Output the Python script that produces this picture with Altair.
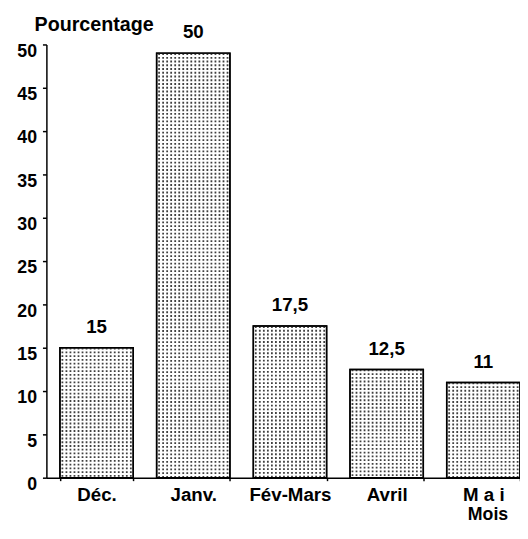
import altair as alt
import pandas as pd

categories = ["Déc.", "Janv.", "Fév-Mars", "Avril", "M a i"]
values = [15, 49, 17.5, 12.5, 11]
value_labels = ["15", "50", "17,5", "12,5", "11"]
y_ticks = [i * 2.5 for i in range(21)]

df = pd.DataFrame({"cat": categories, "value": values, "label": value_labels})

FONT = "Liberation Sans"

xscale = alt.Scale(domain=categories, paddingInner=0.242, paddingOuter=0.07, align=1)
yscale = alt.Scale(domain=[0, 50], nice=False, zero=True)

xenc = alt.X(
    "cat:N", sort=categories, scale=xscale,
    axis=alt.Axis(
        title="Mois", titleFont=FONT, titleFontSize=18, titleFontWeight="bold",
        titleX=448, titleY=37, titleAlign="center", titleBaseline="middle",
        labelFont=FONT, labelFontSize=19, labelFontWeight="bold", labelColor="black",
        labelAngle=0, labelPadding=5, tickBand="extent", tickSize=3,
        tickColor="black", domainColor="black", domainWidth=1.5, tickWidth=1.5,
        titleColor="black",
    ),
)
yenc = alt.Y(
    "value:Q", scale=yscale,
    axis=alt.Axis(
        values=y_ticks,
        labelExpr="datum.value % 5 == 0 ? datum.label : ''",
        title="Pourcentage", titleAngle=0, titleX=48, titleY=-20,
        titleAlign="center", titleBaseline="middle",
        titleFont=FONT, titleFontSize=20, titleFontWeight="bold", titleColor="black",
        labelFont=FONT, labelFontSize=18, labelFontWeight="bold", labelColor="black",
        labelBaseline="middle", labelOffset=7, labelPadding=6,
        tickSize=4, tickColor="black", tickWidth=1.5,
        domainColor="black", domainWidth=1.5, grid=False,
    ),
)

bars = alt.Chart(df).mark_bar(
    fill="white", stroke="black", strokeWidth=1.5
).encode(x=xenc, y=yenc)

dots = alt.Chart(df).transform_calculate(
    k="sequence(0, 18)"
).transform_flatten(["k"]).mark_rule(
    color="#404040", strokeWidth=1.8, strokeDash=[1.9, 1.9]
).encode(
    x=alt.X("cat:N", sort=categories, scale=xscale),
    xOffset=alt.XOffset("k:Q", scale=alt.Scale(domain=[0, 17], range=[2.5, 72])),
    y=alt.Y("value:Q", scale=yscale),
    y2=alt.datum(0),
)

outline = alt.Chart(df).mark_bar(
    fillOpacity=0, stroke="black", strokeWidth=1.5
).encode(x=alt.X("cat:N", sort=categories, scale=xscale), y=alt.Y("value:Q", scale=yscale))

text = alt.Chart(df).mark_text(
    font=FONT, fontSize=19, fontWeight="bold", color="black",
    baseline="middle", dy=-21
).encode(
    x=alt.X("cat:N", sort=categories, scale=xscale),
    y=alt.Y("value:Q", scale=yscale),
    text="label:N",
)

chart = alt.layer(bars, dots, outline, text).resolve_scale(
    xOffset="independent"
).properties(
    width=481, height=440,
    autosize=alt.AutoSizeParams(type="none"),
    padding={"left": 39, "top": 33, "right": 0, "bottom": 44},
).configure_view(stroke=None)

chart.save("out.html", embed_options={"renderer": "svg", "actions": False})
